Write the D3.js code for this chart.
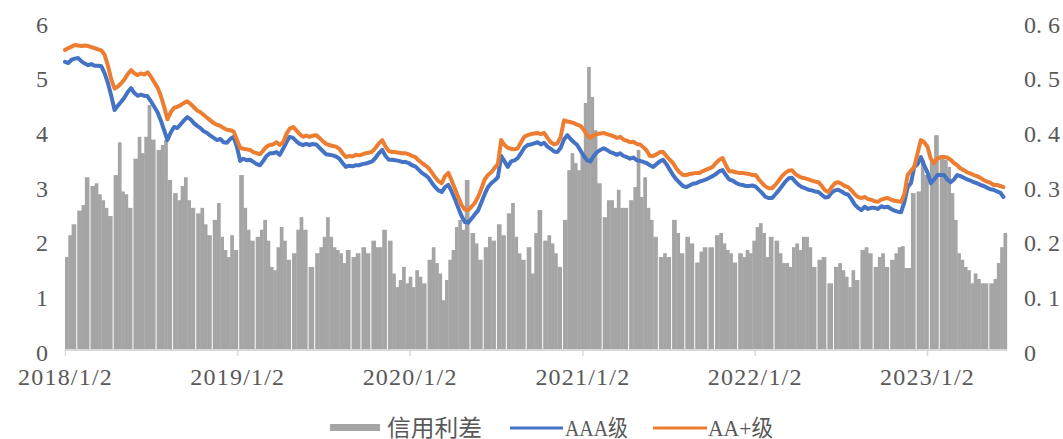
<!DOCTYPE html>
<html><head><meta charset="utf-8">
<script src="https://cdn.jsdelivr.net/npm/d3@7"></script>
<style>body{margin:0;background:#fff;} svg{display:block;}</style>
</head><body><svg id="c" width="1063" height="439"></svg>
<script>
// weekly observations starting 2018-01-02
const startDate = "2018-01-02";
const stepDays = 7;

const aaa = [
5.27,5.25,5.31,5.33,5.34,5.28,5.24,5.21,5.23,5.20,
5.20,5.19,5.06,4.88,4.65,4.39,4.47,4.54,4.62,4.72,
4.79,4.70,4.65,4.67,4.65,4.64,4.55,4.45,4.35,4.20,
4.02,3.84,3.98,4.08,4.06,4.13,4.20,4.26,4.22,4.15,
4.10,4.06,4.00,3.97,3.92,3.88,3.84,3.86,3.80,3.79,
3.86,3.90,3.72,3.46,3.50,3.47,3.48,3.44,3.40,3.38,
3.46,3.55,3.60,3.60,3.62,3.57,3.68,3.80,3.90,3.88,
3.82,3.77,3.75,3.77,3.75,3.77,3.76,3.70,3.64,3.58,
3.57,3.56,3.54,3.50,3.42,3.35,3.37,3.36,3.38,3.38,
3.40,3.41,3.43,3.45,3.52,3.60,3.66,3.55,3.48,3.48,
3.47,3.46,3.44,3.44,3.42,3.38,3.36,3.30,3.24,3.20,
3.15,3.06,2.98,2.92,2.89,2.98,3.02,2.90,2.76,2.60,
2.45,2.34,2.33,2.40,2.48,2.55,2.70,2.85,2.98,3.05,
3.10,3.16,3.55,3.45,3.35,3.45,3.47,3.51,3.60,3.70,
3.75,3.76,3.78,3.80,3.76,3.79,3.72,3.68,3.63,3.62,
3.70,3.85,3.93,3.86,3.80,3.75,3.65,3.55,3.47,3.45,
3.55,3.62,3.66,3.69,3.66,3.62,3.60,3.57,3.60,3.55,
3.53,3.50,3.52,3.47,3.46,3.44,3.42,3.38,3.35,3.40,
3.45,3.48,3.40,3.30,3.20,3.12,3.06,3.00,2.98,3.01,
3.04,3.05,3.08,3.10,3.12,3.15,3.18,3.22,3.27,3.29,
3.20,3.12,3.10,3.06,3.03,3.02,3.00,3.00,3.01,2.99,
2.93,2.87,2.80,2.78,2.78,2.85,2.92,3.00,3.08,3.14,
3.15,3.08,3.02,2.98,2.96,2.93,2.92,2.90,2.89,2.84,
2.79,2.80,2.88,2.92,2.93,2.90,2.86,2.84,2.76,2.66,
2.60,2.56,2.62,2.58,2.60,2.60,2.58,2.63,2.61,2.62,
2.58,2.55,2.53,2.52,2.70,2.98,3.05,3.35,3.40,3.53,
3.38,3.25,3.05,3.12,3.20,3.20,3.20,3.12,3.07,3.12,
3.20,3.18,3.15,3.12,3.10,3.07,3.05,3.02,3.00,2.97,
2.94,2.93,2.90,2.88,2.80
];

const aaPlus = [
5.49,5.52,5.55,5.58,5.57,5.56,5.57,5.56,5.54,5.52,
5.50,5.48,5.40,5.20,4.95,4.78,4.82,4.88,4.95,5.05,
5.12,5.06,5.03,5.06,5.04,5.08,5.00,4.90,4.80,4.65,
4.45,4.22,4.35,4.43,4.45,4.48,4.52,4.55,4.50,4.44,
4.38,4.35,4.30,4.25,4.20,4.15,4.12,4.10,4.06,4.03,
4.02,4.00,3.85,3.70,3.68,3.67,3.66,3.62,3.60,3.58,
3.65,3.72,3.75,3.76,3.80,3.75,3.80,3.95,4.05,4.08,
4.02,3.95,3.90,3.92,3.90,3.92,3.93,3.88,3.82,3.77,
3.75,3.73,3.72,3.68,3.60,3.53,3.55,3.54,3.57,3.56,
3.58,3.60,3.61,3.63,3.70,3.78,3.84,3.72,3.64,3.62,
3.62,3.61,3.60,3.60,3.58,3.55,3.53,3.47,3.42,3.38,
3.33,3.25,3.16,3.09,3.05,3.18,3.24,3.10,2.95,2.80,
2.65,2.57,2.56,2.62,2.69,2.80,2.95,3.12,3.20,3.25,
3.33,3.40,3.84,3.75,3.70,3.68,3.67,3.69,3.80,3.90,
3.93,3.95,3.96,3.97,3.95,3.97,3.88,3.80,3.76,3.78,
3.90,4.20,4.18,4.17,4.15,4.12,4.10,4.03,3.93,3.88,
3.93,3.95,3.96,3.97,3.95,3.93,3.91,3.88,3.90,3.85,
3.83,3.80,3.81,3.77,3.76,3.71,3.65,3.55,3.55,3.58,
3.62,3.62,3.55,3.48,3.42,3.32,3.25,3.20,3.20,3.22,
3.23,3.24,3.24,3.27,3.30,3.32,3.35,3.42,3.48,3.51,
3.38,3.27,3.27,3.25,3.24,3.24,3.23,3.22,3.20,3.20,
3.12,3.05,2.99,2.96,2.96,3.02,3.10,3.18,3.24,3.28,
3.29,3.22,3.18,3.15,3.14,3.12,3.10,3.08,3.07,3.00,
2.92,2.89,2.98,3.05,3.07,3.04,3.00,2.98,2.92,2.85,
2.80,2.78,2.80,2.76,2.75,2.72,2.71,2.75,2.77,2.78,
2.75,2.73,2.72,2.71,2.85,3.20,3.28,3.35,3.60,3.84,
3.80,3.72,3.50,3.42,3.50,3.53,3.53,3.52,3.48,3.42,
3.38,3.32,3.29,3.25,3.23,3.20,3.18,3.15,3.11,3.08,
3.06,3.02,3.02,3.00,2.98
];

// 信用利差 (right axis); null = no observation (drawn as a thin gap)
const spread = [
0.170,0.210,0.230,null,0.255,0.265,0.316,null,0.300,0.305,
0.285,0.274,0.260,0.245,null,0.320,0.380,0.290,0.285,0.260,
null,0.350,0.390,0.360,0.390,0.448,0.385,null,0.366,0.375,
0.384,0.311,null,0.287,0.274,0.300,0.316,0.274,0.260,null,
0.250,0.260,0.230,0.210,null,0.238,0.269,0.207,0.183,0.170,
0.210,0.183,null,0.320,0.260,0.220,0.200,null,0.207,0.220,
0.238,0.200,0.152,0.146,0.188,0.225,0.200,0.165,null,0.177,
0.220,0.243,0.220,null,0.152,null,0.177,0.188,0.207,0.243,
0.207,0.188,0.183,0.177,0.159,0.183,null,0.170,0.177,null,
0.188,0.177,null,0.200,0.188,0.188,0.220,null,0.200,0.140,
0.115,0.128,0.152,0.122,0.134,0.115,0.146,0.134,0.122,null,
0.165,0.188,0.159,0.140,0.091,0.128,0.165,0.183,0.225,0.238,
0.220,0.311,null,0.214,0.195,0.165,null,0.188,0.207,0.200,
null,0.230,0.210,null,0.250,0.269,0.207,0.177,0.165,null,
0.188,0.140,0.214,0.256,null,0.200,0.210,0.195,0.177,0.152,
null,0.238,0.329,0.360,0.342,0.329,0.360,0.452,0.518,0.463,
0.402,0.305,null,0.243,0.274,0.274,0.260,0.293,0.260,0.260,
null,0.274,0.298,0.366,0.280,0.316,0.260,0.238,0.207,null,
0.170,0.177,0.170,null,0.238,0.214,0.177,null,0.207,0.195,
null,0.160,0.180,0.188,null,0.188,null,0.210,0.214,0.195,
0.183,0.177,0.160,null,0.177,0.170,0.183,0.177,0.200,0.225,
0.232,0.214,0.170,0.207,null,0.200,0.177,0.159,0.159,0.152,
0.188,0.195,0.183,0.207,0.207,0.188,0.152,null,0.165,0.170,
null,0.122,null,0.152,0.159,0.146,0.134,0.115,0.146,0.128,
null,0.183,0.188,0.177,null,0.152,0.170,0.177,0.152,null,
0.165,0.177,0.188,0.190,0.150,0.150,0.287,null,0.290,0.348,
0.320,null,0.348,0.393,null,0.350,0.348,0.335,0.287,0.238,
0.177,0.165,0.152,0.146,0.122,0.140,0.130,0.122,0.122,null,
0.122,0.130,0.159,0.188,0.214
];

const leftTicks = [0,1,2,3,4,5,6];
const rightTicks = [0,0.1,0.2,0.3,0.4,0.5,0.6];
const rightTickLabels = ["0","0. 1","0. 2","0. 3","0. 4","0. 5","0. 6"];
const xTickDates = ["2018-01-02","2019-01-02","2020-01-02","2021-01-02","2022-01-02","2023-01-02"];
const xTickLabels = ["2018/1/2","2019/1/2","2020/1/2","2021/1/2","2022/1/2","2023/1/2"];
const seriesNames = ["信用利差","AAA级","AA+级"];
const colors = {bar:"#a5a5a5", aaa:"#4472c4", aap:"#ed7d31", text:"#595959", axis:"#d9d9d9"};

const parse = d3.utcParse("%Y-%m-%d");
const t0 = parse(startDate);
const dates = aaa.map((_, i) => d3.utcDay.offset(t0, i * stepDays));
const tEnd = d3.utcDay.offset(t0, aaa.length * stepDays);

const x = d3.scaleUtc().domain([parse("2018-01-02"), parse("2023-01-02")]).range([65, 927]);
const yL = d3.scaleLinear().domain([0, 6]).range([350, 22]);
const yR = d3.scaleLinear().domain([0, 0.6]).range([350, 22]);

const svg = d3.select("#c");
const serif = "'Liberation Serif','Times New Roman',serif";
const cjk = "'Liberation Serif','Noto Sans CJK SC',sans-serif";

// bars: a missing observation leaves a narrow white gap, neighbours widen into it
const GAPW = 1.4;
const barData = spread.map((v, i) => ({v, i, d: dates[i], n: d3.utcDay.offset(dates[i], stepDays)}))
  .filter(o => o.v !== null);
svg.append("g").selectAll("rect")
  .data(barData)
  .join("rect")
  .attr("x", o => {
    const prevGap = o.i > 0 && spread[o.i - 1] === null;
    const w = x(o.n) - x(o.d);
    return x(o.d) - (prevGap ? (w - GAPW) / 2 : 0);
  })
  .attr("width", o => {
    const w = x(o.n) - x(o.d);
    const prevGap = o.i > 0 && spread[o.i - 1] === null;
    const nextGap = o.i < spread.length - 1 && spread[o.i + 1] === null;
    return w + 0.4 + (prevGap ? (w - GAPW) / 2 : 0) + (nextGap ? (w - GAPW) / 2 : 0);
  })
  .attr("y", o => yR(o.v))
  .attr("height", o => yR(0) - yR(o.v))
  .attr("fill", colors.bar);

// baseline
svg.append("line")
  .attr("x1", x(t0)).attr("x2", x(tEnd))
  .attr("y1", yL(0)).attr("y2", yL(0))
  .attr("stroke", colors.axis).attr("stroke-width", 2);

// lines
const line = d3.line().x((d, i) => x(dates[i])).y(d => yL(d));
svg.append("path").datum(aaa).attr("d", line)
  .attr("fill", "none").attr("stroke", colors.aaa).attr("stroke-width", 4)
  .attr("stroke-linejoin", "round").attr("stroke-linecap", "round");
svg.append("path").datum(aaPlus).attr("d", line)
  .attr("fill", "none").attr("stroke", colors.aap).attr("stroke-width", 4)
  .attr("stroke-linejoin", "round").attr("stroke-linecap", "round");

// x axis
const xa = svg.append("g").attr("transform", `translate(0,${yL(0)})`)
  .call(d3.axisBottom(x).tickValues(xTickDates.map(parse))
    .tickFormat((d, i) => xTickLabels[i]).tickSize(6).tickSizeOuter(0));
xa.select(".domain").remove();
xa.selectAll(".tick line").attr("stroke", colors.axis).attr("stroke-width", 1.5);
xa.selectAll(".tick text").attr("y", 35).attr("dy", 0)
  .attr("fill", colors.text).style("font-family", serif).style("font-size", "24px")
  .style("letter-spacing", "1.2px");

// left axis
const la = svg.append("g").attr("transform", "translate(48,0)")
  .call(d3.axisLeft(yL).tickValues(leftTicks).tickFormat(d3.format("d")).tickSize(0).tickPadding(0));
la.select(".domain").remove();
la.selectAll(".tick text").attr("dy", 10).attr("fill", colors.text)
  .style("font-family", serif).style("font-size", "24px");

// right axis
const ra = svg.append("g").attr("transform", "translate(1024,0)")
  .call(d3.axisRight(yR).tickValues(rightTicks).tickFormat((d, i) => rightTickLabels[i]).tickSize(0).tickPadding(0));
ra.select(".domain").remove();
ra.selectAll(".tick text").attr("dy", 10).attr("fill", colors.text)
  .style("font-family", serif).style("font-size", "24px").style("white-space", "pre");

// legend
const lg = svg.append("g");
lg.append("rect").attr("x", 330).attr("y", 424).attr("width", 50).attr("height", 7).attr("fill", colors.bar);
lg.append("text").attr("x", 387).attr("y", 428).attr("dominant-baseline", "central")
  .attr("fill", colors.text).style("font-family", cjk).style("font-size", "23px")
  .attr("textLength", 95).attr("lengthAdjust", "spacingAndGlyphs").text(seriesNames[0]);
lg.append("line").attr("x1", 510).attr("x2", 563).attr("y1", 428).attr("y2", 428)
  .attr("stroke", colors.aaa).attr("stroke-width", 3);
lg.append("text").attr("x", 565).attr("y", 428).attr("dominant-baseline", "central")
  .attr("fill", colors.text).style("font-family", cjk).style("font-size", "23px")
  .attr("textLength", 63).attr("lengthAdjust", "spacingAndGlyphs").text(seriesNames[1]);
lg.append("line").attr("x1", 653).attr("x2", 707).attr("y1", 428).attr("y2", 428)
  .attr("stroke", colors.aap).attr("stroke-width", 3);
lg.append("text").attr("x", 708).attr("y", 428).attr("dominant-baseline", "central")
  .attr("fill", colors.text).style("font-family", cjk).style("font-size", "23px")
  .attr("textLength", 65).attr("lengthAdjust", "spacingAndGlyphs").text(seriesNames[2]);
</script>
</body></html>
